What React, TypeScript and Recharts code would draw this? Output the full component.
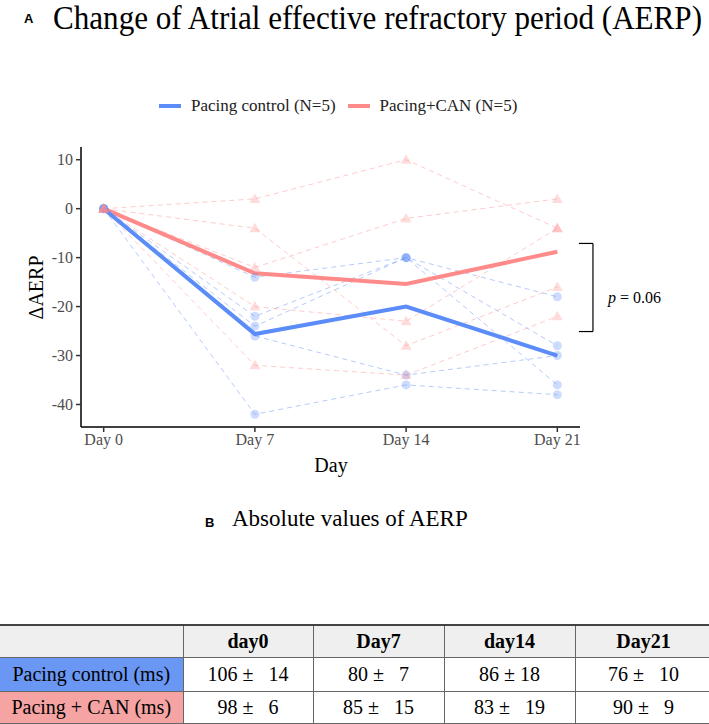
import React from "react";
import { LineChart, Line, XAxis, YAxis, ReferenceLine } from "recharts";

// values
const days = [0, 7, 14, 21];
const controlSubjects = [
  [0, -14, -10, -18],
  [0, -22, -10, -28],
  [0, -24, -10, -36],
  [0, -26, -34, -30],
  [0, -42, -36, -38],
];
const canSubjects = [
  [0, 2, 10, -4],
  [0, -4, -28, -16],
  [0, -12, -2, 2],
  [0, -20, -23, -4],
  [0, -32, -34, -22],
];
const controlMean = [0, -25.6, -20, -30];
const canMean = [0, -13.2, -15.4, -8.8];
const yTicks = [-40, -30, -20, -10, 0, 10];

const tableHeader = ["day0", "Day7", "day14", "Day21"];
const tableRows = ["Pacing control (ms)", "Pacing + CAN (ms)"];
const controlCells = ["106 \u00b1   14", "80 \u00b1   7", "86 \u00b1 18", "76 \u00b1   10"];
const canCells = ["98 \u00b1   6", "85 \u00b1   15", "83 \u00b1   19", "90 \u00b1   9"];

const BLUE = "#5b8cf7";
const PINK = "#ff8a8a";
const serif = "'Liberation Serif', 'Times New Roman', serif";

const data = days.map((d, i) => {
  const row: any = { day: d, cMean: controlMean[i], pMean: canMean[i] };
  controlSubjects.forEach((s, k) => (row["c" + k] = s[i]));
  canSubjects.forEach((s, k) => (row["p" + k] = s[i]));
  return row;
});

const Circle = (props: any) => {
  const { cx, cy } = props;
  return <circle cx={cx} cy={cy} r={4.5} fill={BLUE} fillOpacity={0.3} />;
};

const Triangle = (props: any) => {
  const { cx, cy } = props;
  return (
    <path
      d={`M${cx},${cy - 5.5} L${cx + 5.5},${cy + 4} L${cx - 5.5},${cy + 4} Z`}
      fill={PINK}
      fillOpacity={0.3}
    />
  );
};

const cellBase: React.CSSProperties = {
  borderRight: "1px solid #666",
  borderBottom: "1px solid #666",
  textAlign: "center",
  padding: 0,
  whiteSpace: "pre",
};

export default function App() {
  return (
    <div
      style={{
        position: "absolute",
        left: 0,
        top: 0,
        width: 709,
        height: 724,
        background: "#fff",
        fontFamily: serif,
        overflow: "hidden",
      }}
    >
      {/* panel A title */}
      <div style={{ position: "absolute", left: 24, top: 11, fontFamily: "'Liberation Sans', Arial, sans-serif", fontWeight: 700, fontSize: 13 }}>A</div>
      <div
        style={{
          position: "absolute",
          left: 53,
          top: 1,
          fontSize: 34,
          lineHeight: "34px",
          whiteSpace: "nowrap",
          transform: "scaleX(0.915)",
          transformOrigin: "left top",
          color: "#000",
        }}
      >
        Change of Atrial effective refractory period (AERP)
      </div>

      {/* legend */}
      <div style={{ position: "absolute", left: 159, top: 96, fontSize: 17, color: "#222", display: "flex", alignItems: "center", whiteSpace: "nowrap" }}>
        <span style={{ display: "inline-block", width: 22, height: 4, background: BLUE, marginRight: 10 }} />
        <span>Pacing control (N=5)</span>
        <span style={{ display: "inline-block", width: 22, height: 4, background: PINK, marginLeft: 12, marginRight: 10 }} />
        <span>Pacing+CAN (N=5)</span>
      </div>

      <div style={{ position: "absolute", left: 0, top: 0 }}>
        <LineChart width={709} height={480} data={data} margin={{ top: 147, right: 129, left: 21, bottom: 23 }}>
          <XAxis
            dataKey="day"
            type="number"
            domain={[-1.05, 22.05]}
            ticks={days}
            tickFormatter={(v) => "Day " + v}
            stroke="#000"
            strokeWidth={1.5}
            tickSize={5}
            tickLine={{ stroke: "#333" }}
            tick={{ fill: "#4d4d4d", fontSize: 16, fontFamily: serif }}
            height={30}
            allowDataOverflow
          />
          <YAxis
            type="number"
            domain={[-44.6, 12.6]}
            ticks={yTicks}
            stroke="#000"
            strokeWidth={1.5}
            tickSize={5}
            tickMargin={3}
            tickLine={{ stroke: "#333" }}
            tick={{ fill: "#4d4d4d", fontSize: 16, fontFamily: serif }}
            width={60}
            allowDataOverflow
          />
          {controlSubjects.map((_, k) => (
            <Line
              key={"c" + k}
              dataKey={"c" + k}
              stroke={BLUE}
              strokeOpacity={0.45}
              strokeWidth={1}
              strokeDasharray="5 4"
              dot={<Circle />}
              activeDot={false}
              isAnimationActive={false}
            />
          ))}
          {canSubjects.map((_, k) => (
            <Line
              key={"p" + k}
              dataKey={"p" + k}
              stroke={PINK}
              strokeOpacity={0.45}
              strokeWidth={1}
              strokeDasharray="5 4"
              dot={<Triangle />}
              activeDot={false}
              isAnimationActive={false}
            />
          ))}
          <Line dataKey="pMean" stroke={PINK} strokeWidth={4} dot={false} isAnimationActive={false} />
          <Line dataKey="cMean" stroke={BLUE} strokeWidth={4} dot={false} isAnimationActive={false} />
          <ReferenceLine segment={[{ x: 22.0, y: -7.1 }, { x: 22.65, y: -7.1 }]} stroke="#000" strokeWidth={1.2} ifOverflow="visible" />
          <ReferenceLine segment={[{ x: 22.65, y: -7.1 }, { x: 22.65, y: -25.1 }]} stroke="#000" strokeWidth={1.2} ifOverflow="visible" />
          <ReferenceLine segment={[{ x: 22.0, y: -25.1 }, { x: 22.65, y: -25.1 }]} stroke="#000" strokeWidth={1.2} ifOverflow="visible" />
        </LineChart>
      </div>

      {/* axis titles and annotation */}
      <div style={{ position: "absolute", left: 14, top: 276, width: 44, fontSize: 20, transform: "rotate(-90deg)", transformOrigin: "center", textAlign: "center", whiteSpace: "nowrap", display: "flex", justifyContent: "center" }}>
        {"\u0394AERP"}
      </div>
      <div style={{ position: "absolute", left: 311, top: 454, width: 40, textAlign: "center", fontSize: 20 }}>Day</div>
      <div style={{ position: "absolute", left: 608, top: 289, fontSize: 16, whiteSpace: "nowrap" }}>
        <i>p</i> = 0.06
      </div>

      {/* panel B */}
      <div style={{ position: "absolute", left: 205, top: 515, fontFamily: "'Liberation Sans', Arial, sans-serif", fontWeight: 700, fontSize: 13 }}>B</div>
      <div style={{ position: "absolute", left: 232, top: 506, fontSize: 23, whiteSpace: "nowrap" }}>Absolute values of AERP</div>

      <table
        style={{
          position: "absolute",
          left: 0,
          top: 624,
          width: 712,
          borderCollapse: "collapse",
          borderTop: "2px solid #444",
          fontSize: 20,
          tableLayout: "fixed",
        }}
      >
        <colgroup>
          <col style={{ width: 183 }} />
          <col style={{ width: 130 }} />
          <col style={{ width: 131 }} />
          <col style={{ width: 131 }} />
          <col style={{ width: 137 }} />
        </colgroup>
        <tbody>
          <tr style={{ height: 32, background: "#efefef" }}>
            <td style={cellBase}></td>
            {tableHeader.map((h) => (
              <td key={h} style={{ ...cellBase, fontWeight: 700 }}>{h}</td>
            ))}
          </tr>
          <tr style={{ height: 34 }}>
            <td style={{ ...cellBase, background: "#6a97f4" }}>{tableRows[0]}</td>
            {controlCells.map((c, i) => (
              <td key={i} style={cellBase}>{c}</td>
            ))}
          </tr>
          <tr style={{ height: 32 }}>
            <td style={{ ...cellBase, background: "#f6a3a3" }}>{tableRows[1]}</td>
            {canCells.map((c, i) => (
              <td key={i} style={cellBase}>{c}</td>
            ))}
          </tr>
        </tbody>
      </table>
    </div>
  );
}
